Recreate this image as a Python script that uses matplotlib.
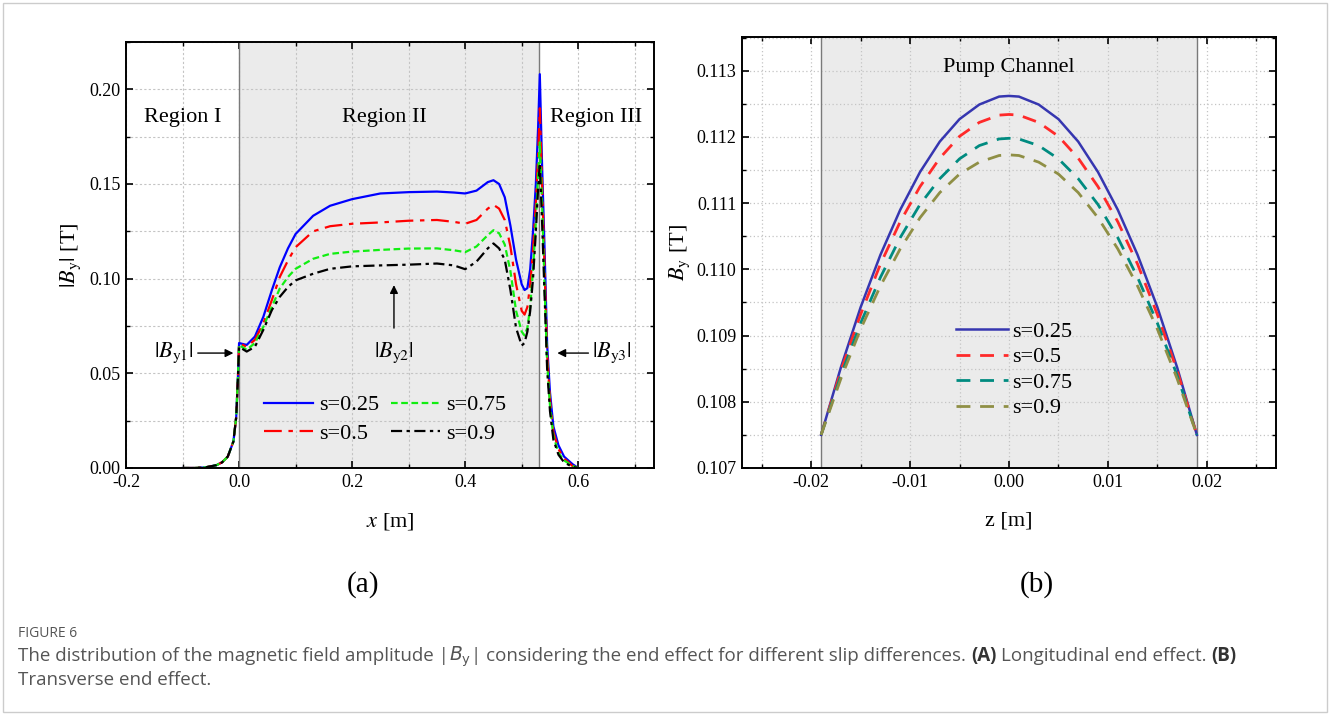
import numpy as np
import matplotlib
matplotlib.use('Agg')
import matplotlib.pyplot as plt
from matplotlib.ticker import MultipleLocator, FormatStrFormatter
from matplotlib.patches import Rectangle

plt.rcParams['font.family'] = ['Liberation Serif', 'DejaVu Serif']
plt.rcParams['mathtext.fontset'] = 'stix'
plt.rcParams['axes.unicode_minus'] = False

# ---- panel (a): longitudinal end effect ----
x_pos = [-0.10, -0.08, -0.06, -0.04, -0.03, -0.02, -0.01, -0.005, -0.002,
         0.0, 0.0135, 0.028, 0.043, 0.058, 0.072, 0.0865, 0.10, 0.131, 0.161, 0.20, 0.25,
         0.30, 0.35, 0.38, 0.40, 0.42, 0.44, 0.45, 0.46, 0.47, 0.48, 0.49, 0.50, 0.505,
         0.51, 0.515, 0.52, 0.525, 0.529, 0.532, 0.536, 0.54, 0.545, 0.55, 0.556, 0.565,
         0.575, 0.59, 0.60]
by_s025 = [0.0, 0.0, 0.0003, 0.0015, 0.003, 0.006, 0.014, 0.027, 0.048,
           0.066, 0.065, 0.0694, 0.0799, 0.0939, 0.106, 0.116, 0.1236, 0.1332, 0.1385, 0.142, 0.145,
           0.1457, 0.146, 0.1455, 0.145, 0.1465, 0.151, 0.152, 0.150, 0.143, 0.128, 0.110, 0.097, 0.094,
           0.095, 0.105, 0.125, 0.150, 0.180, 0.208, 0.160, 0.120, 0.065, 0.040, 0.022, 0.012,
           0.006, 0.002, 0.0]
by_s050 = [0.0, 0.0, 0.0003, 0.0015, 0.003, 0.006, 0.014, 0.027, 0.048,
           0.066, 0.064, 0.0677, 0.0764, 0.0887, 0.1009, 0.1096, 0.1166, 0.125, 0.1277, 0.129, 0.1297,
           0.1306, 0.131, 0.130, 0.129, 0.131, 0.137, 0.139, 0.137, 0.131, 0.117, 0.097, 0.083, 0.081,
           0.085, 0.097, 0.115, 0.140, 0.165, 0.190, 0.150, 0.110, 0.060, 0.036, 0.019, 0.010,
           0.005, 0.001, 0.0]
by_s075 = [0.0, 0.0, 0.0003, 0.0015, 0.003, 0.006, 0.014, 0.027, 0.048,
           0.065, 0.0624, 0.066, 0.0746, 0.0851, 0.0948, 0.1009, 0.1052, 0.1105, 0.1131, 0.1143, 0.1152,
           0.1159, 0.116, 0.115, 0.114, 0.117, 0.123, 0.1256, 0.124, 0.118, 0.104, 0.083, 0.072, 0.070,
           0.074, 0.085, 0.105, 0.130, 0.155, 0.172, 0.140, 0.100, 0.055, 0.033, 0.017, 0.008,
           0.004, 0.001, 0.0]
by_s090 = [0.0, 0.0, 0.0003, 0.0015, 0.003, 0.006, 0.014, 0.027, 0.048,
           0.064, 0.0615, 0.064, 0.073, 0.0834, 0.0904, 0.0956, 0.0991, 0.1026, 0.1052, 0.1065, 0.107,
           0.1074, 0.108, 0.107, 0.105, 0.109, 0.116, 0.1186, 0.116, 0.110, 0.094, 0.074, 0.0647, 0.066,
           0.072, 0.083, 0.100, 0.125, 0.148, 0.161, 0.130, 0.095, 0.052, 0.030, 0.015, 0.007,
           0.003, 0.0005, 0.0]
region2 = (0.0, 0.53)

# ---- panel (b): transverse end effect ----
z_pos = [-0.019, -0.017, -0.015, -0.013, -0.011, -0.009, -0.007, -0.005, -0.003, -0.001, 0.0,
         0.001, 0.003, 0.005, 0.007, 0.009, 0.011, 0.013, 0.015, 0.017, 0.019]
bz_s025 = [0.10750, 0.10852, 0.10943, 0.11022, 0.11090, 0.11147, 0.11193, 0.11227, 0.11249, 0.11261, 0.11262,
           0.11261, 0.11249, 0.11227, 0.11193, 0.11147, 0.11090, 0.11022, 0.10943, 0.10852, 0.10750]
bz_s050 = [0.10750, 0.10847, 0.10932, 0.11008, 0.11072, 0.11125, 0.11168, 0.11201, 0.11222, 0.11233, 0.11234,
           0.11233, 0.11222, 0.11201, 0.11168, 0.11125, 0.11072, 0.11008, 0.10932, 0.10847, 0.10750]
bz_s075 = [0.10750, 0.10840, 0.10919, 0.10988, 0.11048, 0.11098, 0.11137, 0.11167, 0.11187, 0.11197, 0.11198,
           0.11197, 0.11187, 0.11167, 0.11137, 0.11098, 0.11048, 0.10988, 0.10919, 0.10840, 0.10750]
bz_s090 = [0.10750, 0.10835, 0.10910, 0.10975, 0.11031, 0.11078, 0.11116, 0.11144, 0.11162, 0.11172, 0.11173,
           0.11172, 0.11162, 0.11144, 0.11116, 0.11078, 0.11031, 0.10975, 0.10910, 0.10835, 0.10750]
channel = (-0.019, 0.019)

labels = ['s=0.25', 's=0.5', 's=0.75', 's=0.9']

fig = plt.figure(figsize=(13.3, 7.15), dpi=100)
W, H = 1330, 715

ax1 = fig.add_axes([126 / W, 1 - 468 / H, 528 / W, 426 / H])
ax2 = fig.add_axes([742 / W, 1 - 468 / H, 534 / W, 431 / H])


def style_axis(ax):
    ax.tick_params(which='both', direction='in', top=True, right=True, labelsize=13)
    ax.tick_params(which='major', length=5, width=1.2, pad=4)
    ax.tick_params(which='minor', length=3, width=1.0)
    ax.grid(which='both', color='#c4c4c4', lw=0.8, ls=(0, (2, 2)))
    ax.set_axisbelow(True)
    for sp in ax.spines.values():
        sp.set_linewidth(1.4)


# left panel
ax1.axvspan(*region2, color='#ebebeb', zorder=0, lw=0)
for xv in region2:
    ax1.axvline(xv, color='#7a7a7a', lw=1, zorder=1)
ax1.plot(x_pos, by_s025, color='#0000ff', lw=1.6, label=labels[0])
ax1.plot(x_pos, by_s050, color='#ff0000', lw=1.6, ls=(0, (8, 3, 2, 3)), label=labels[1])
ax1.plot(x_pos, by_s075, color='#11ee11', lw=1.6, ls=(0, (3, 1.6)), label=labels[2])
ax1.plot(x_pos, by_s090, color='#000000', lw=1.6, ls=(0, (5, 2, 1.5, 2)), label=labels[3])
ax1.set_xlim(-0.2, 0.734)
ax1.set_ylim(0, 0.225)
ax1.xaxis.set_major_locator(MultipleLocator(0.2))
ax1.xaxis.set_minor_locator(MultipleLocator(0.1))
ax1.yaxis.set_major_locator(MultipleLocator(0.05))
ax1.yaxis.set_minor_locator(MultipleLocator(0.025))
ax1.xaxis.set_major_formatter(FormatStrFormatter('%.1f'))
ax1.yaxis.set_major_formatter(FormatStrFormatter('%.2f'))
style_axis(ax1)
ax1.set_xlabel(r'$x$ [m]', fontsize=16)
ax1.set_ylabel(r'$|B_\mathrm{y}|$ [T]', fontsize=16)
ax1.xaxis.set_label_coords(0.5, -0.101)
ax1.yaxis.set_label_coords(-0.082, 0.5)

ax1.text(-0.10, 0.185, 'Region I', fontsize=16, ha='center', va='center')
ax1.text(0.257, 0.185, 'Region II', fontsize=16, ha='center', va='center')
ax1.text(0.632, 0.185, 'Region III', fontsize=16, ha='center', va='center')

arrow = dict(arrowstyle='-|>', color='k', lw=1, mutation_scale=12, shrinkA=0, shrinkB=0)
ax1.text(-0.115, 0.0607, r'$|B_\mathrm{y1}|$', fontsize=16, ha='center', va='center')
ax1.annotate('', xy=(-0.010, 0.0607), xytext=(-0.073, 0.0607), arrowprops=arrow)
ax1.text(0.274, 0.0607, r'$|B_\mathrm{y2}|$', fontsize=16, ha='center', va='center')
ax1.annotate('', xy=(0.274, 0.0966), xytext=(0.274, 0.0739), arrowprops=arrow)
ax1.text(0.660, 0.0607, r'$|B_\mathrm{y3}|$', fontsize=16, ha='center', va='center')
ax1.annotate('', xy=(0.563, 0.0607), xytext=(0.618, 0.0607), arrowprops=arrow)

ax1.legend(ncol=2, loc='upper left', bbox_to_anchor=(0.261, 0.172), frameon=False,
           fontsize=16, handlelength=2.2, handletextpad=0.27, columnspacing=0.55,
           labelspacing=0.35, borderpad=0, borderaxespad=0)

# right panel
ax2.axvspan(*channel, color='#ebebeb', zorder=0, lw=0)
for zv in channel:
    ax2.axvline(zv, color='#7a7a7a', lw=1, zorder=1)
ax2.plot(z_pos, bz_s025, color='#3636b0', lw=1.8, label=labels[0])
ax2.plot(z_pos, bz_s050, color='#ff2a2a', lw=2.0, ls=(0, (5, 3.5)), label=labels[1])
ax2.plot(z_pos, bz_s075, color='#008b80', lw=2.0, ls=(0, (5, 3.5)), label=labels[2])
ax2.plot(z_pos, bz_s090, color='#8f8f45', lw=2.0, ls=(0, (5, 3.5)), label=labels[3])
ax2.set_xlim(-0.027, 0.027)
ax2.set_ylim(0.107, 0.11351)
ax2.xaxis.set_major_locator(MultipleLocator(0.01))
ax2.xaxis.set_minor_locator(MultipleLocator(0.005))
ax2.yaxis.set_major_locator(MultipleLocator(0.001))
ax2.yaxis.set_minor_locator(MultipleLocator(0.0005))
ax2.xaxis.set_major_formatter(FormatStrFormatter('%.2f'))
ax2.yaxis.set_major_formatter(FormatStrFormatter('%.3f'))
style_axis(ax2)
ax2.grid(which='both', color='#c4c4c4', lw=0.9, ls=(0, (1, 2)))
ax2.set_xlabel('z [m]', fontsize=16)
ax2.set_ylabel(r'$B_\mathrm{y}$ [T]', fontsize=16)
ax2.xaxis.set_label_coords(0.5, -0.0998)
ax2.yaxis.set_label_coords(-0.094, 0.5)
ax2.text(0.0, 0.11305, 'Pump Channel', fontsize=16, ha='center', va='center')
ax2.legend(loc='upper left', bbox_to_anchor=(0.401, 0.34), frameon=False,
           fontsize=16, handlelength=2.35, handletextpad=0.15,
           labelspacing=0.22, borderpad=0, borderaxespad=0)

# panel labels
fig.text(363 / W, 1 - 585 / H, '(a)', fontsize=21, ha='center', va='center')
fig.text(1037 / W, 1 - 585 / H, '(b)', fontsize=21, ha='center', va='center')

# caption
cap_font = ['Open Sans', 'DejaVu Sans']
renderer = fig.canvas.get_renderer()


def width_px(txt, **kw):
    t = fig.text(0, 0, txt, **kw)
    w = t.get_window_extent(renderer).width
    t.remove()
    return w


def chunk_line(x_px, base_px, chunks, size):
    gap = width_px('a a', family=cap_font, fontsize=size) - width_px('aa', family=cap_font, fontsize=size)
    x = x_px
    for txt, weight, color, space in chunks:
        kw = dict(family=cap_font, fontsize=size, fontweight=weight, color=color,
                  math_fontfamily='dejavusans')
        fig.text(x / W, 1 - base_px / H, txt, ha='left', va='baseline', **kw)
        x += width_px(txt, **kw)
        if space:
            x += gap


grey = '#555555'
fig.text(18 / W, 1 - 637 / H, 'FIGURE 6', family=cap_font, fontsize=10, color=grey,
         ha='left', va='baseline')
chunk_line(18, 661, [
    ('The distribution of the magnetic field amplitude |', 'normal', grey, False),
    (r'$B_\mathrm{y}$', 'normal', grey, False),
    ('| considering the end effect for different slip differences.', 'normal', grey, True),
    ('(A)', 'bold', '#333333', True),
    ('Longitudinal end effect.', 'normal', grey, True),
    ('(B)', 'bold', '#333333', False),
], 13.5)
chunk_line(18, 685, [('Transverse end effect.', 'normal', grey, False)], 13.5)

fig.add_artist(Rectangle((3 / W, 3 / H), 1 - 6 / W, 1 - 6 / H, transform=fig.transFigure,
                         fill=False, edgecolor='#cccccc', lw=1))

fig.savefig('out.png', dpi=100)
